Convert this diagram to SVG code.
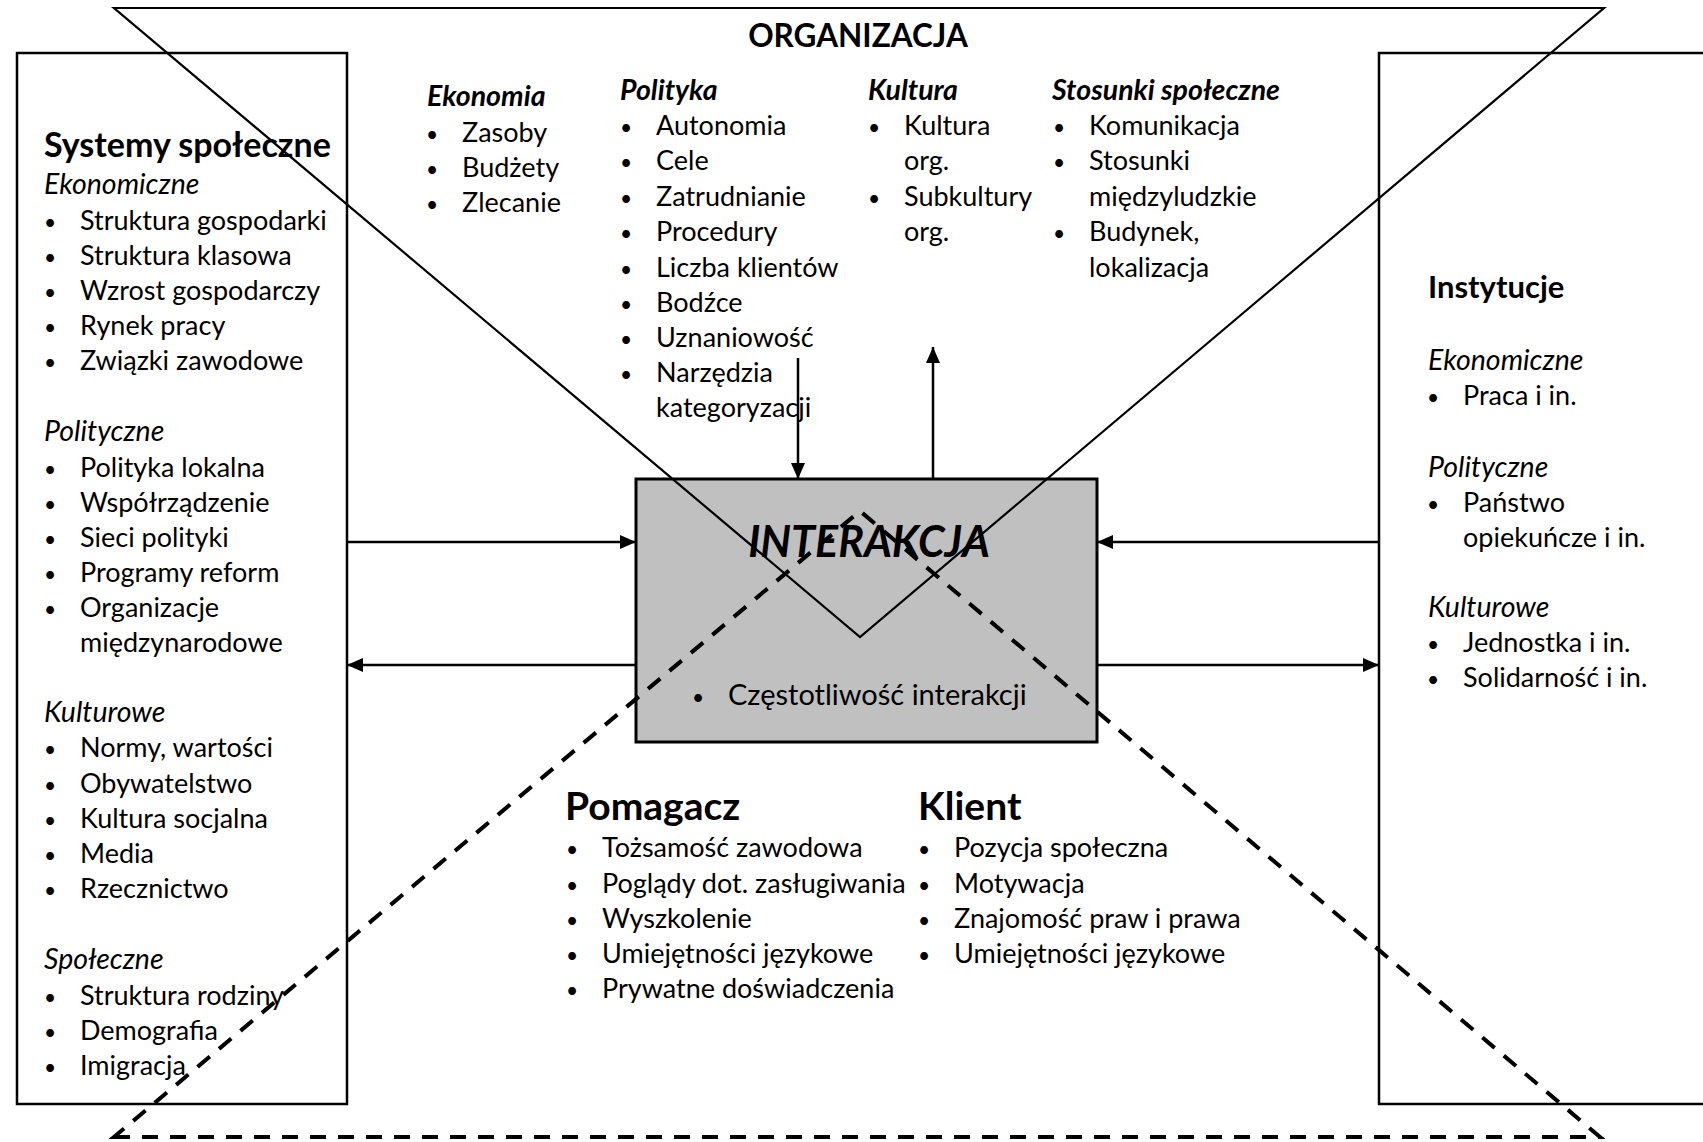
<svg xmlns="http://www.w3.org/2000/svg" width="1703" height="1142" viewBox="0 0 1703 1142">
<defs>
<style>
text{font-family:Lato,"Liberation Sans",sans-serif;fill:#000}
.b{font-size:27px}
.i{font-size:28.5px;font-style:italic}
.bi{font-size:28.5px;font-style:italic;font-weight:bold}
.h{font-size:34px;font-weight:bold}
.h2{font-size:39px;font-weight:bold}
.d{font-size:21px;text-anchor:middle}
.box{fill:none;stroke:#000;stroke-width:2.5}
.tri{fill:none;stroke:#000;stroke-width:2.2}
.dash{fill:none;stroke:#000;stroke-width:4;stroke-dasharray:16 12}
.conn{stroke:#000;stroke-width:2.5;fill:none}
</style>
<marker id="ah" markerWidth="16" markerHeight="14" refX="16" refY="7" orient="auto" markerUnits="userSpaceOnUse"><path d="M0,0 L16,7 L0,14 z" fill="#000"/></marker>
</defs>
<rect width="1703" height="1142" fill="#fff"/>

<g id="systemy-spoleczne">
<rect class="box" x="17" y="53" width="330" height="1051"/>
<text class="h" x="44" y="157">Systemy społeczne</text>
<text class="i" x="44" y="194">Ekonomiczne</text>
<text class="d" x="50" y="230">•</text><text class="b" x="80" y="230">Struktura gospodarki</text>
<text class="d" x="50" y="265">•</text><text class="b" x="80" y="265">Struktura klasowa</text>
<text class="d" x="50" y="300">•</text><text class="b" x="80" y="300">Wzrost gospodarczy</text>
<text class="d" x="50" y="335">•</text><text class="b" x="80" y="335">Rynek pracy</text>
<text class="d" x="50" y="370">•</text><text class="b" x="80" y="370">Związki zawodowe</text>
<text class="i" x="44" y="441">Polityczne</text>
<text class="d" x="50" y="477">•</text><text class="b" x="80" y="477">Polityka lokalna</text>
<text class="d" x="50" y="512">•</text><text class="b" x="80" y="512">Współrządzenie</text>
<text class="d" x="50" y="547">•</text><text class="b" x="80" y="547">Sieci polityki</text>
<text class="d" x="50" y="582">•</text><text class="b" x="80" y="582">Programy reform</text>
<text class="d" x="50" y="617">•</text><text class="b" x="80" y="617">Organizacje</text>
<text class="b" x="80" y="652">międzynarodowe</text>
<text class="i" x="44" y="722">Kulturowe</text>
<text class="d" x="50" y="757">•</text><text class="b" x="80" y="757">Normy, wartości</text>
<text class="d" x="50" y="793">•</text><text class="b" x="80" y="793">Obywatelstwo</text>
<text class="d" x="50" y="828">•</text><text class="b" x="80" y="828">Kultura socjalna</text>
<text class="d" x="50" y="863">•</text><text class="b" x="80" y="863">Media</text>
<text class="d" x="50" y="898">•</text><text class="b" x="80" y="898">Rzecznictwo</text>
<text class="i" x="44" y="969">Społeczne</text>
<text class="d" x="50" y="1005">•</text><text class="b" x="80" y="1005">Struktura rodziny</text>
<text class="d" x="50" y="1040">•</text><text class="b" x="80" y="1040">Demografia</text>
<text class="d" x="50" y="1075">•</text><text class="b" x="80" y="1075">Imigracja</text>
</g>

<g id="instytucje">
<rect class="box" x="1379" y="53" width="400" height="1051"/>
<text x="1428" y="298" font-size="31" font-weight="bold">Instytucje</text>
<text class="i" x="1428" y="370">Ekonomiczne</text>
<text class="d" x="1433" y="405">•</text><text class="b" x="1463" y="405">Praca i in.</text>
<text class="i" x="1428" y="477">Polityczne</text>
<text class="d" x="1433" y="512">•</text><text class="b" x="1463" y="512">Państwo</text>
<text class="b" x="1463" y="547">opiekuńcze i in.</text>
<text class="i" x="1428" y="617">Kulturowe</text>
<text class="d" x="1433" y="652">•</text><text class="b" x="1463" y="652">Jednostka i in.</text>
<text class="d" x="1433" y="687">•</text><text class="b" x="1463" y="687">Solidarność i in.</text>
</g>

<g id="interakcja">
<rect x="636" y="479" width="461" height="263" fill="#c0c0c0" stroke="#000" stroke-width="3"/>
<text x="869" y="557" font-size="43" font-weight="bold" font-style="italic" text-anchor="middle">INTERAKCJA</text>
<text class="d" x="698" y="705">•</text><text x="728" y="705" font-size="29">Częstotliwość interakcji</text>
</g>

<g id="organizacja">
<path class="tri" d="M114,8 L1604,8 L860,637 Z"/>
<text x="858" y="47" font-size="31.5" font-weight="bold" text-anchor="middle">ORGANIZACJA</text>
<text class="bi" x="427" y="106">Ekonomia</text>
<text class="d" x="432" y="142">•</text><text class="b" x="462" y="142">Zasoby</text>
<text class="d" x="432" y="177">•</text><text class="b" x="462" y="177">Budżety</text>
<text class="d" x="432" y="212">•</text><text class="b" x="462" y="212">Zlecanie</text>
<text class="bi" x="620" y="100">Polityka</text>
<text class="d" x="626" y="135">•</text><text class="b" x="656" y="135">Autonomia</text>
<text class="d" x="626" y="170">•</text><text class="b" x="656" y="170">Cele</text>
<text class="d" x="626" y="206">•</text><text class="b" x="656" y="206">Zatrudnianie</text>
<text class="d" x="626" y="241">•</text><text class="b" x="656" y="241">Procedury</text>
<text class="d" x="626" y="277">•</text><text class="b" x="656" y="277">Liczba klientów</text>
<text class="d" x="626" y="312">•</text><text class="b" x="656" y="312">Bodźce</text>
<text class="d" x="626" y="347">•</text><text class="b" x="656" y="347">Uznaniowość</text>
<text class="d" x="626" y="382">•</text><text class="b" x="656" y="382">Narzędzia</text>
<text class="b" x="656" y="417">kategoryzacji</text>
<text class="bi" x="868" y="100">Kultura</text>
<text class="d" x="874" y="135">•</text><text class="b" x="904" y="135">Kultura</text>
<text class="b" x="904" y="170">org.</text>
<text class="d" x="874" y="206">•</text><text class="b" x="904" y="206">Subkultury</text>
<text class="b" x="904" y="241">org.</text>
<text class="bi" x="1052" y="100">Stosunki społeczne</text>
<text class="d" x="1059" y="135">•</text><text class="b" x="1089" y="135">Komunikacja</text>
<text class="d" x="1059" y="170">•</text><text class="b" x="1089" y="170">Stosunki</text>
<text class="b" x="1089" y="206">międzyludzkie</text>
<text class="d" x="1059" y="241">•</text><text class="b" x="1089" y="241">Budynek,</text>
<text class="b" x="1089" y="277">lokalizacja</text>
</g>

<g id="pomagacz-klient">
<path class="dash" d="M114,1137 L1600,1137 L860,511 Z"/>
<text class="h2" x="565" y="820">Pomagacz</text>
<text class="d" x="572" y="857">•</text><text class="b" x="602" y="857">Tożsamość zawodowa</text>
<text class="d" x="572" y="893">•</text><text class="b" x="602" y="893">Poglądy dot. zasługiwania</text>
<text class="d" x="572" y="928">•</text><text class="b" x="602" y="928">Wyszkolenie</text>
<text class="d" x="572" y="963">•</text><text class="b" x="602" y="963">Umiejętności językowe</text>
<text class="d" x="572" y="998">•</text><text class="b" x="602" y="998">Prywatne doświadczenia</text>
<text class="h2" x="918" y="820">Klient</text>
<text class="d" x="924" y="857">•</text><text class="b" x="954" y="857">Pozycja społeczna</text>
<text class="d" x="924" y="893">•</text><text class="b" x="954" y="893">Motywacja</text>
<text class="d" x="924" y="928">•</text><text class="b" x="954" y="928">Znajomość praw i prawa</text>
<text class="d" x="924" y="963">•</text><text class="b" x="954" y="963">Umiejętności językowe</text>
</g>

<g id="connectors">
<line class="conn" x1="347" y1="542" x2="636" y2="542" marker-end="url(#ah)"/>
<line class="conn" x1="636" y1="665" x2="347" y2="665" marker-end="url(#ah)"/>
<line class="conn" x1="1379" y1="542" x2="1097" y2="542" marker-end="url(#ah)"/>
<line class="conn" x1="1097" y1="665" x2="1379" y2="665" marker-end="url(#ah)"/>
<line class="conn" x1="798" y1="358" x2="798" y2="479" marker-end="url(#ah)"/>
<line class="conn" x1="933" y1="479" x2="933" y2="347" marker-end="url(#ah)"/>
</g>
</svg>
